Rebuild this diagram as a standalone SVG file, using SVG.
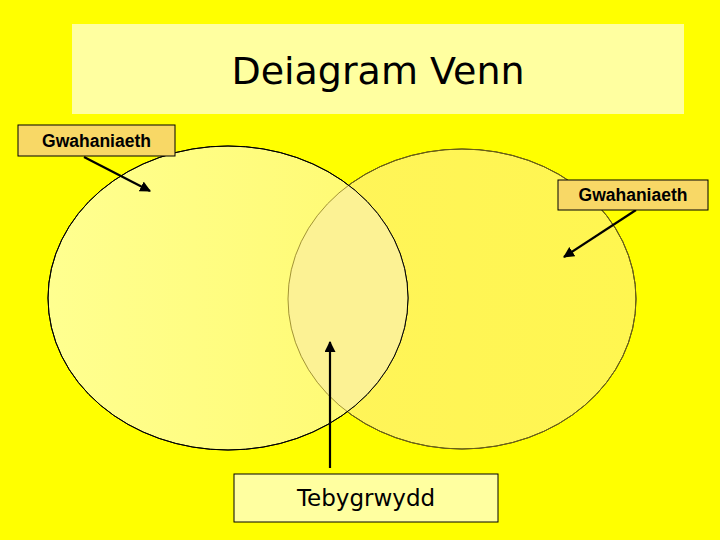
<svg xmlns="http://www.w3.org/2000/svg" width="720" height="540" viewBox="0 0 720 540">
<defs>
<style>
.lbl{font-family:"Liberation Sans",Arial,sans-serif;font-weight:bold;font-size:17.5px;fill:#000;text-anchor:middle}
.comic{font-family:"DejaVu Sans","Liberation Sans",sans-serif;fill:#000;text-anchor:middle}
.conn{stroke:#000;stroke-width:2.2;fill:none;marker-end:url(#ah)}
.box{fill:#F8D866;stroke:#000;stroke-width:1}
</style>
<marker id="ah" viewBox="0 0 10 10" refX="9" refY="5" markerWidth="5" markerHeight="5" orient="auto" markerUnits="strokeWidth">
<path d="M0,0 L10,5 L0,10 z" fill="#000"/>
</marker>
<linearGradient id="gl" x1="0" y1="0" x2="1" y2="0">
<stop offset="0" stop-color="#FFFF90"/>
<stop offset="1" stop-color="#FFFA70"/>
</linearGradient>
<linearGradient id="gr" x1="0" y1="0" x2="1" y2="0">
<stop offset="0" stop-color="#FFF45A"/>
<stop offset="1" stop-color="#FFF650"/>
</linearGradient>
<clipPath id="clipR">
<ellipse cx="462" cy="299" rx="174" ry="150"/>
</clipPath>
</defs>
<rect width="720" height="540" fill="#FFFF00"/>
<g id="title">
<rect x="72" y="24" width="612" height="90" fill="#FFFFA0"/>
<text class="comic" x="378" y="84" font-size="38">Deiagram Venn</text>
</g>
<g id="set-right">
<ellipse cx="462" cy="299" rx="174" ry="150" fill="url(#gr)" stroke="#000" stroke-width="1"/>
</g>
<g id="set-left">
<ellipse cx="228" cy="298" rx="180" ry="152" fill="url(#gl)" stroke="#000" stroke-width="1"/>
</g>
<g id="intersection">
<ellipse cx="228" cy="298" rx="180" ry="152" fill="#FCF294" clip-path="url(#clipR)"/>
<ellipse cx="462" cy="299" rx="174" ry="150" fill="none" stroke="#8A7A20" stroke-width="0.8"/>
<ellipse cx="228" cy="298" rx="180" ry="152" fill="none" stroke="#000" stroke-width="1"/>
</g>
<g id="connectors">
<line class="conn" x1="84" y1="157" x2="150" y2="191"/>
<line class="conn" x1="636" y1="210" x2="564" y2="257"/>
<line class="conn" x1="330" y1="468" x2="330" y2="342"/>
</g>
<g id="label-left">
<rect class="box" x="18" y="125" width="157" height="31"/>
<text class="lbl" x="96.5" y="147">Gwahaniaeth</text>
</g>
<g id="label-right">
<rect class="box" x="558" y="180" width="150" height="30"/>
<text class="lbl" x="633" y="201">Gwahaniaeth</text>
</g>
<g id="label-bottom">
<rect x="234" y="474" width="264" height="48" fill="#FFFFA0" stroke="#000" stroke-width="1"/>
<text class="comic" x="366" y="506" font-size="23">Tebygrwydd</text>
</g>
</svg>
